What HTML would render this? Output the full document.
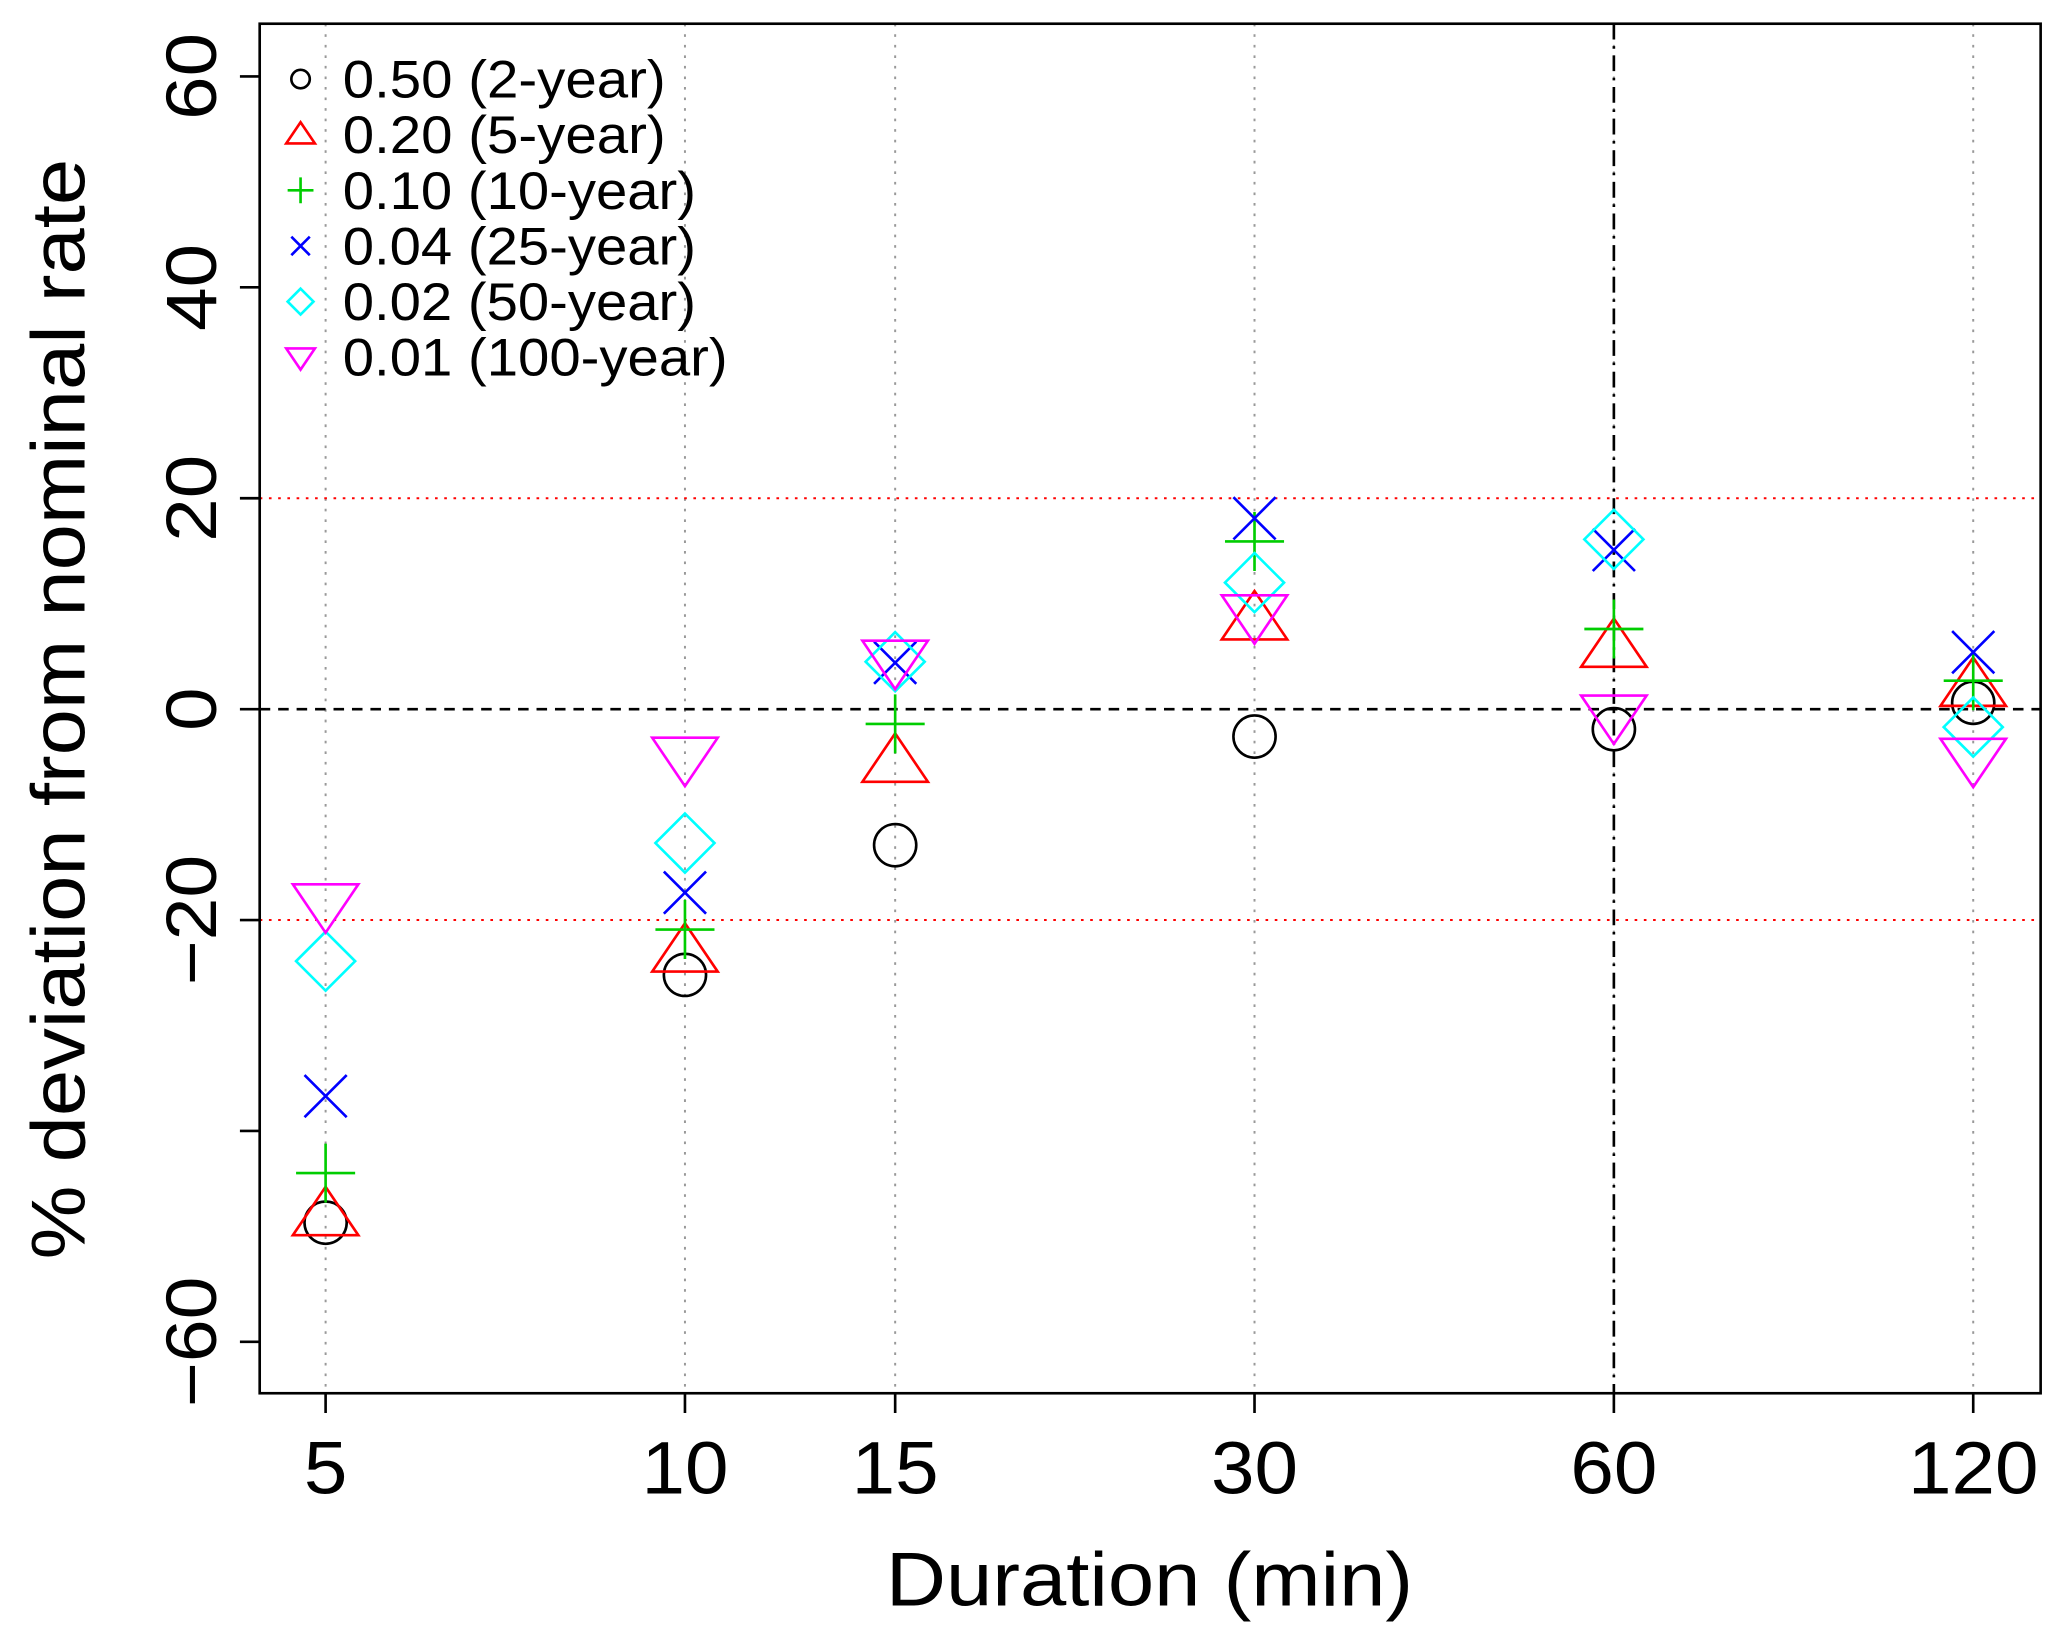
<!DOCTYPE html>
<html><head><meta charset="utf-8"><style>
html,body{margin:0;padding:0;background:#fff;}
svg{display:block;font-family:"Liberation Sans",Arial,sans-serif;}
</style></head><body>
<svg id="chart" width="2067" height="1645" viewBox="0 0 1568 1248" preserveAspectRatio="none" xmlns="http://www.w3.org/2000/svg"></svg>
<script>
const durations = [5, 10, 15, 30, 60, 120];
const seriesNames = ["0.50 (2-year)", "0.20 (5-year)", "0.10 (10-year)", "0.04 (25-year)", "0.02 (50-year)", "0.01 (100-year)"];
const seriesColors = ["#000000", "#ff0000", "#00cd00", "#0000ff", "#00ffff", "#ff00ff"];
const seriesShapes = ["circle", "triangle", "plus", "cross", "diamond", "down"];
const s2yr = [-48.7, -25.2, -12.9, -2.6, -1.9, 0.6];
const s5yr = [-48.0, -23.0, -5.0, 8.5, 5.9, 2.2];
const s10yr = [-44.0, -20.9, -1.4, 15.9, 7.6, 2.7];
const s25yr = [-36.7, -17.4, 4.4, 18.1, 15.1, 5.4];
const s50yr = [-23.9, -12.7, 4.5, 12.0, 16.1, -1.7];
const s100yr = [-18.5, -4.6, 4.6, 8.9, -0.6, -4.7];
const allSeries = [s2yr, s5yr, s10yr, s25yr, s50yr, s100yr];
const yTicks = [-60, -40, -20, 0, 20, 40, 60];
const yTickLabels = ["\u221260", "", "\u221220", "0", "20", "40", "60"];

const svg = document.getElementById('chart');
const NS = "http://www.w3.org/2000/svg";
const L = 197, R = 1548, T = 18, B = 1057;
function xs(d){ return 247 + 272.6 * Math.log2(d / 5); }
function ys(v){ return 538 - 8 * v; }
function mk(tag, attrs, parent){
  const e = document.createElementNS(NS, tag);
  for (const k in attrs) e.setAttribute(k, attrs[k]);
  (parent || svg).appendChild(e);
  return e;
}
durations.forEach(d => {
  const g = mk('line', {x1: xs(d), x2: xs(d), y1: T, y2: B, stroke: '#999', 'stroke-width': 1.5, 'stroke-dasharray': '2 6'});
  
  
});
[20, -20].forEach(v => {
  const r = mk('line', {x1: L, x2: R, y1: ys(v), y2: ys(v), stroke: '#ff0000', 'stroke-width': 1.5, 'stroke-dasharray': '2 5'});
  
  
});
const z = mk('line', {x1: L, x2: R, y1: ys(0), y2: ys(0), stroke: '#000', 'stroke-width': 2, 'stroke-dasharray': '8 6'});


const v60 = mk('line', {x1: xs(60), x2: xs(60), y1: T, y2: B, stroke: '#000', 'stroke-width': 2, 'stroke-dasharray': '12 5 2 5'});



function marker(shape, cx, cy, s, color, parent, sw){
  let e;
  if (shape === 'circle') e = mk('circle', {cx, cy, r: s, fill: 'none', stroke: color, 'stroke-width': sw}, parent);
  else if (shape === 'triangle') { const h = s*1.35; e = mk('polygon', {points: `${cx},${cy-h} ${cx-h*1.15},${cy+h*0.7} ${cx+h*1.15},${cy+h*0.7}`, fill: 'none', stroke: color, 'stroke-width': sw}, parent); }
  else if (shape === 'down') { const h = s*1.35; e = mk('polygon', {points: `${cx},${cy+h} ${cx-h*1.15},${cy-h*0.7} ${cx+h*1.15},${cy-h*0.7}`, fill: 'none', stroke: color, 'stroke-width': sw}, parent); }
  else if (shape === 'diamond') { const h = s*1.4; e = mk('polygon', {points: `${cx},${cy-h} ${cx+h},${cy} ${cx},${cy+h} ${cx-h},${cy}`, fill: 'none', stroke: color, 'stroke-width': sw}, parent); }
  else if (shape === 'plus') { const h = s*1.4; e = mk('path', {d: `M${cx-h},${cy}H${cx+h}M${cx},${cy-h}V${cy+h}`, stroke: color, 'stroke-width': sw, fill: 'none'}, parent); }
  else { const h = s; e = mk('path', {d: `M${cx-h},${cy-h}L${cx+h},${cy+h}M${cx-h},${cy+h}L${cx+h},${cy-h}`, stroke: color, 'stroke-width': sw, fill: 'none'}, parent); }
  return e;
}
allSeries.forEach((vals, si) => {
  const g = mk('g', {});
  
  
  vals.forEach((v, i) => {
    const m = marker(seriesShapes[si], xs(durations[i]), ys(v), 16, seriesColors[si], g, 2);
    
    
  });
});
const fr = mk('rect', {x: L, y: T, width: R-L, height: B-T, fill: 'none', stroke: '#000', 'stroke-width': 2});


yTicks.forEach((v, i) => {
  const t = mk('line', {x1: L, x2: L-15, y1: ys(v), y2: ys(v), stroke: '#000', 'stroke-width': 2});
  
  
  if (yTickLabels[i]) {
    const lab = yTickLabels[i];
    const tx = mk('text', {x: 0, y: 0, transform: `translate(164,${ys(v)}) rotate(-90)`, 'text-anchor': 'middle', 'font-size': 54, textLength: lab.length * 33, lengthAdjust: 'spacingAndGlyphs'});
    tx.textContent = lab;
    
    
  }
});
durations.forEach(d => {
  const t = mk('line', {x1: xs(d), x2: xs(d), y1: B, y2: B+15, stroke: '#000', 'stroke-width': 2});
  
  
  const lab = String(d);
  const tx = mk('text', {x: xs(d), y: 1133, 'text-anchor': 'middle', 'font-size': 56, textLength: lab.length * 33, lengthAdjust: 'spacingAndGlyphs'});
  tx.textContent = lab;
  
  
});
const xt = mk('text', {x: 872, y: 1218, 'text-anchor': 'middle', 'font-size': 58, textLength: 400, lengthAdjust: 'spacingAndGlyphs'});
xt.textContent = 'Duration (min)';


const yt = mk('text', {x: 0, y: 0, transform: 'translate(64,538) rotate(-90)', 'text-anchor': 'middle', 'font-size': 58, textLength: 835, lengthAdjust: 'spacingAndGlyphs'});
yt.textContent = '% deviation from nominal rate';


const lg = mk('g', {});


const legendWidths = [245, 245, 268, 268, 268, 292];
seriesNames.forEach((n, i) => {
  const cy = 60 + i * 42.2;
  const e = mk('g', {}, lg);
  
  
  marker(seriesShapes[i], 228, cy, 7, seriesColors[i], e, 2);
  const tx = mk('text', {x: 260, y: cy + 14, 'font-size': 40, textLength: legendWidths[i], lengthAdjust: 'spacingAndGlyphs'}, e);
  tx.textContent = n;
});
</script>
</body></html>
